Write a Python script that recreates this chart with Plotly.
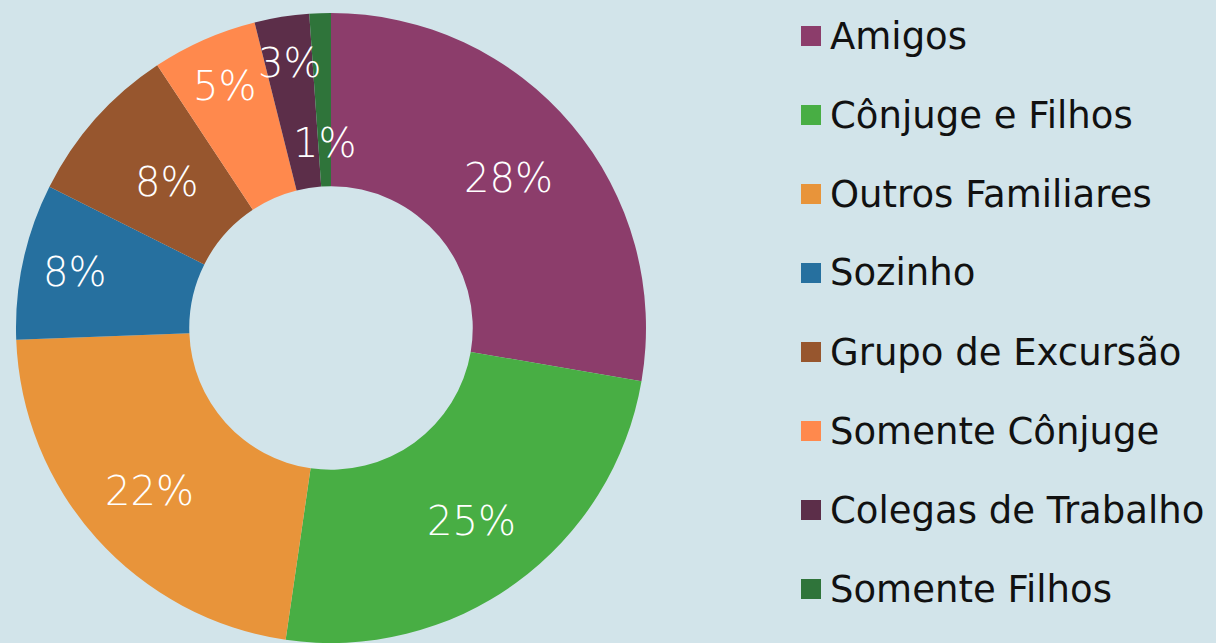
import math
import plotly.graph_objects as go

labels = ["Amigos", "Cônjuge e Filhos", "Outros Familiares", "Sozinho",
          "Grupo de Excursão", "Somente Cônjuge", "Colegas de Trabalho", "Somente Filhos"]
values = [27.7, 24.6, 22.1, 8.0, 8.3, 5.4, 2.8, 1.1]
colors = ["#8c3d6b", "#48ae44", "#e8943a", "#26709f",
          "#97562e", "#ff894d", "#5c2e49", "#2f743a"]
# label radius (px from centre) for each percentage text
label_r = [232, 239, 244, 262, 220, 264, 268, 185]

W, H = 1216, 643
CX, CY, R = 331, 328, 315
FONT = "DejaVu Sans"
BG = "#d2e4ea"

fig = go.Figure(go.Pie(
    labels=labels, values=values, sort=False, direction="clockwise", rotation=0,
    hole=0.45, marker=dict(colors=colors, line=dict(width=0)),
    textinfo="none", showlegend=False, hoverinfo="label+percent",
    domain=dict(x=[(CX - R) / W, (CX + R) / W], y=[(H - CY - R) / H, (H - CY + R) / H]),
))

annotations = []
total = sum(values)
cum = 0
for v, rr in zip(values, label_r):
    mid = (cum + v / 2) / total * 2 * math.pi
    cum += v
    px = CX + rr * math.sin(mid)
    py = CY - rr * math.cos(mid)
    annotations.append(dict(
        x=px / W, y=1 - py / H, xref="paper", yref="paper",
        text=f"{round(v / total * 100)}%", showarrow=False,
        font=dict(family=FONT, size=40, color="white", weight=300),
        xanchor="center", yanchor="middle"))

shapes = []
for i, (lab, col) in enumerate(zip(labels, colors)):
    yc = 36 + i * 79
    shapes.append(dict(type="rect", xref="paper", yref="paper",
                       x0=801 / W, x1=821 / W, y0=1 - (yc + 10) / H, y1=1 - (yc - 10) / H,
                       fillcolor=col, line=dict(width=0)))
    annotations.append(dict(x=828 / W, y=1 - yc / H, xref="paper", yref="paper",
                            text=lab, showarrow=False, xanchor="left", yanchor="middle",
                            font=dict(family=FONT, size=37, color="#111111")))

fig.update_layout(
    width=W, height=H, margin=dict(l=0, r=0, t=0, b=0),
    paper_bgcolor=BG, plot_bgcolor=BG,
    annotations=annotations, shapes=shapes,
)
fig.write_html("out.html", config={"displayModeBar": False},
               post_script=f"document.body.style.margin='0';document.body.style.background='{BG}';")
